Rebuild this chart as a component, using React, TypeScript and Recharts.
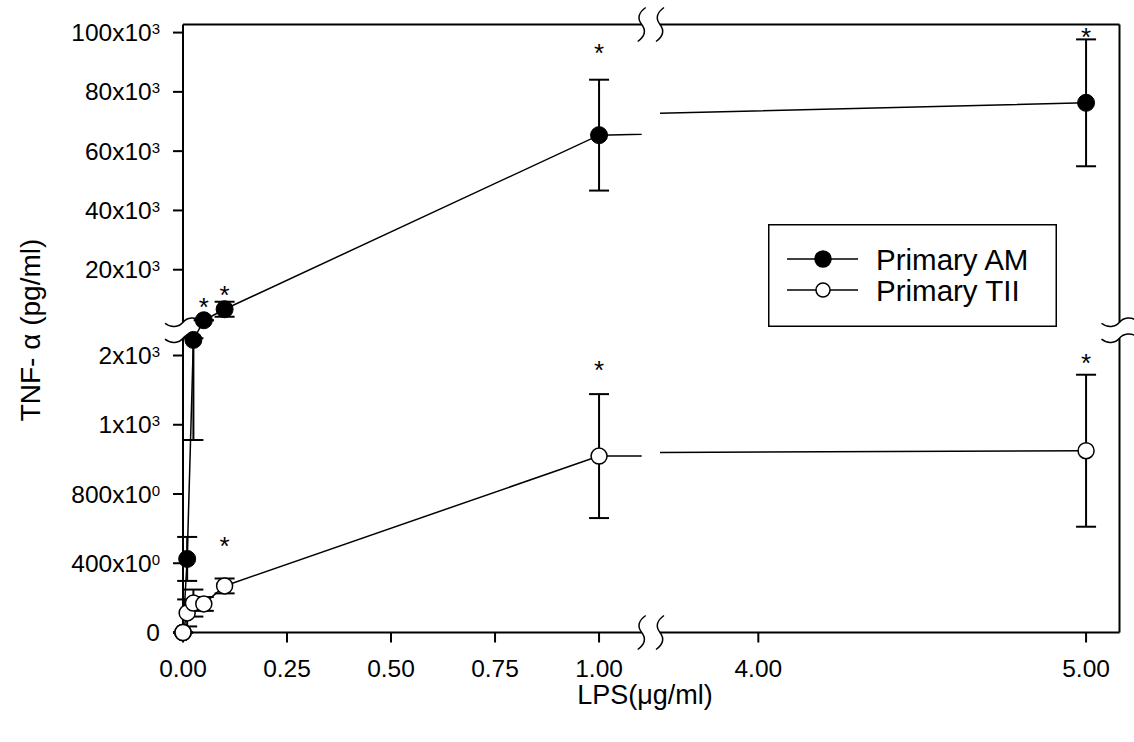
import React from 'react';
import {
    LineChart,
    Line,
    XAxis,
    YAxis,
    ErrorBar,
    ReferenceLine,
    ReferenceDot,
    Legend,
    Label,
} from 'recharts';

// LPS dose (µg/ml)
const doses = [0, 0.01, 0.025, 0.05, 0.1, 1, 5];
// TNF-α mean and SD, pg/ml
const amMean = [0, 425, 1690, 2950, 6670, 65400, 76300];
const amSd = [0, 127, 578, 0, 2530, 18700, 21400];
const tiiMean = [0, 113, 170, 165, 269, 1019, 1050];
const tiiSd = [0, 78, 78, 40, 43, 358, 439];
// height of the significance stars, pg/ml (null = no star)
const amStarAt = [null, null, null, 8700, 12700, 94400, 99800];
const tiiStarAt = [null, null, null, null, 520, 1540, 1580];

const seriesNames = ['Primary AM', 'Primary TII'];

// tick values and labels as printed on the figure
const leftTicks = [0, 0.25, 0.5, 0.75, 1];
const rightTicks = [4, 5];
const lowerTicks = [0, 400, 800, 1200, 1600];
const lowerTickLabels = [['0', ''], ['400x10', '0'], ['800x10', '0'], ['1x10', '3'], ['2x10', '3']];
const upperTicks = [20000, 40000, 60000, 80000, 100000];
const upperTickLabels = [['20x10', '3'], ['40x10', '3'], ['60x10', '3'], ['80x10', '3'], ['100x10', '3']];

// broken axes
const LEFT_DOMAIN: [number, number] = [0, 1.1025];
const RIGHT_DOMAIN: [number, number] = [3.7, 5.102];
const LOWER_TOP = 1700; // lower y segment: 0..1700
const UPPER_BOTTOM = 2275; // upper y segment starts here
const GAP = 92; // room between the two y segments (axis units)
const UPPER_RATIO = 58.4; // upper segment is squeezed by this much
const Y_MAX = 3512;

const MARGIN_TOP = 24.5;
const MARGIN_BOTTOM = 49.5;
const X_AXIS_H = 60;
const CHART_H = 742;
const PLOT_H = CHART_H - MARGIN_TOP - MARGIN_BOTTOM - X_AXIS_H;

const FONT = '"Liberation Sans", Arial, sans-serif';
const BLACK = '#000';

const toDisplay = (v: number) =>
    v <= LOWER_TOP ? v : LOWER_TOP + GAP + (v - UPPER_BOTTOM) / UPPER_RATIO;

// error bar ends stay in the segment of their point
const errPair = (m: number, sd: number): [number, number] => {
    const lo = m <= LOWER_TOP ? 0 : UPPER_BOTTOM;
    const hi = m <= LOWER_TOP ? LOWER_TOP : Infinity;
    const d = toDisplay(m);
    return [d - toDisplay(Math.max(lo, m - sd)), toDisplay(Math.min(hi, m + sd)) - d];
};

const rows = doses.map((dose, i) => ({
    dose,
    am: toDisplay(amMean[i]),
    tii: toDisplay(tiiMean[i]),
    amErr: errPair(amMean[i], amSd[i]),
    tiiErr: errPair(tiiMean[i], tiiSd[i]),
    amStar: amStarAt[i] == null ? null : toDisplay(amStarAt[i] as number),
    tiiStar: tiiStarAt[i] == null ? null : toDisplay(tiiStarAt[i] as number),
}));

const yTicks = [...lowerTicks, ...upperTicks].map(toDisplay);
const yLabels = [...lowerTickLabels, ...upperTickLabels];

// vertical frame line with a gap at the y break (drawn top -> bottom)
const pxPerUnit = PLOT_H / Y_MAX;
const frameDash = `${(Y_MAX - toDisplay(UPPER_BOTTOM)) * pxPerUnit} ${GAP * pxPerUnit} ${LOWER_TOP * pxPerUnit + 20}`;
const frameLine = { stroke: BLACK, strokeWidth: 2, strokeDasharray: frameDash };

const YTick = (props: any) => {
    const { x, y, payload } = props;
    let idx = 0;
    yTicks.forEach((t, i) => {
        if (Math.abs(t - payload.value) < Math.abs(yTicks[idx] - payload.value)) idx = i;
    });
    const [base, exp] = yLabels[idx];
    return (
        <text x={x} y={y} dy={8.5} textAnchor="end" fontSize={24.5} fontFamily={FONT} fill={BLACK}>
            {base}
            {exp && <tspan dy={-7} fontSize={15}>{exp}</tspan>}
        </text>
    );
};

const XTick = (props: any) => {
    const { x, y, payload } = props;
    return (
        <text x={x} y={y} dy={17} textAnchor="middle" fontSize={24.5} fontFamily={FONT} fill={BLACK}>
            {Number(payload.value).toFixed(2)}
        </text>
    );
};

// break symbols
const xBreak = (p: any) => (
    <path
        d={`M${p.cx + 4},${p.cy - 17} Q${p.cx - 7},${p.cy - 9} ${p.cx},${p.cy} Q${p.cx + 7},${p.cy + 9} ${p.cx - 4},${p.cy + 17}`}
        fill="none" stroke={BLACK} strokeWidth={1.5}
    />
);
const yBreak = (p: any) => (
    <path
        d={`M${p.cx - 18},${p.cy + 1} C${p.cx - 12},${p.cy + 6} ${p.cx - 4},${p.cy + 5} ${p.cx},${p.cy} C${p.cx + 4},${p.cy - 5} ${p.cx + 12},${p.cy - 6} ${p.cx + 18},${p.cy - 1}`}
        fill="none" stroke={BLACK} strokeWidth={1.5}
    />
);

const starDot = (p: any) => {
    if (p.cy == null || p.value == null) return <g key={p.index} />;
    return (
        <text key={p.index} x={p.cx} y={p.cy + 13} textAnchor="middle" fontSize={26} fontFamily={FONT} fill={BLACK}>
            *
        </text>
    );
};

const amDot = { r: 8.5, fill: BLACK, stroke: BLACK, strokeWidth: 1 };
const tiiDot = { r: 8, fill: '#fff', stroke: BLACK, strokeWidth: 1.5 };

const LegendBox = (props: any) => {
    const payload = (props.payload || []).filter((e: any) => seriesNames.includes(e.value));
    return (
        <svg width={290} height={104} style={{ display: 'block' }}>
            <rect x={0.75} y={0.75} width={287.5} height={101.5} fill="#fff" stroke={BLACK} strokeWidth={1.5} />
            {payload.map((e: any, i: number) => {
                const y = 35 + i * 31;
                const filled = e.value === seriesNames[0];
                return (
                    <g key={e.value}>
                        <line x1={19} x2={90} y1={y} y2={y} stroke={BLACK} strokeWidth={1.5} />
                        <circle cx={55} cy={y} r={filled ? 8 : 7} fill={filled ? BLACK : '#fff'} stroke={BLACK} strokeWidth={1.5} />
                        <text x={108} y={y + 10.5} fontSize={29.5} fontFamily={FONT} fill={BLACK}>{e.value}</text>
                    </g>
                );
            })}
        </svg>
    );
};

const Panel = ({ side }: { side: 'left' | 'right' }) => {
    const left = side === 'left';
    const domain = left ? LEFT_DOMAIN : RIGHT_DOMAIN;
    const inPanel = rows.filter((r) => r.dose >= domain[0] && r.dose <= domain[1]);
    const edgeX = left ? domain[0] : domain[1];
    const breakX = left ? domain[1] : domain[0];
    const width = left ? 660 : 1134;
    const margin = left
        ? { top: MARGIN_TOP, right: 18.3, bottom: MARGIN_BOTTOM, left: 103 }
        : { top: MARGIN_TOP, right: 4.5, bottom: MARGIN_BOTTOM, left: 660 };

    return (
        <div style={{ position: 'absolute', left: 0, top: 0 }}>
            <LineChart width={width} height={CHART_H} data={rows} margin={margin}>
                <XAxis xAxisId="clip" orientation="top" type="number" dataKey="dose" domain={domain} allowDataOverflow hide />
                <XAxis
                    xAxisId="main" type="number" dataKey="dose" domain={domain} height={X_AXIS_H}
                    ticks={left ? leftTicks : rightTicks} interval={0} tick={<XTick />}
                    tickSize={10} tickMargin={17}
                    axisLine={{ stroke: BLACK, strokeWidth: 2 }}
                    tickLine={{ stroke: BLACK, strokeWidth: 2 }}
                >
                    {!left && (
                        <Label
                            content={() => (
                                <text x={645} y={704} textAnchor="middle" fontSize={27} fontFamily={FONT} fill={BLACK}>
                                    LPS(μg/ml)
                                </text>
                            )}
                        />
                    )}
                </XAxis>
                {left ? (
                    <YAxis
                        type="number" domain={[0, Y_MAX]} ticks={yTicks} interval={0}
                        width={80} tick={<YTick />} tickSize={10} tickMargin={13}
                        axisLine={frameLine} tickLine={{ stroke: BLACK, strokeWidth: 2 }}
                    >
                        <Label
                            content={() => (
                                <text
                                    x={40} y={330} textAnchor="middle" fontSize={28} fontFamily={FONT} fill={BLACK}
                                    transform="rotate(-90 40 330)"
                                >
                                    TNF- α (pg/ml)
                                </text>
                            )}
                        />
                    </YAxis>
                ) : (
                    <YAxis
                        type="number" orientation="right" domain={[0, Y_MAX]} width={10}
                        ticks={[0]} tick={false} tickLine={false} axisLine={frameLine}
                    />
                )}

                {/* top frame and break symbols */}
                <ReferenceLine xAxisId="main" y={Y_MAX} stroke={BLACK} strokeWidth={2} ifOverflow="visible" />
                <ReferenceDot xAxisId="main" x={edgeX} y={toDisplay(LOWER_TOP)} r={1} ifOverflow="visible" shape={yBreak} />
                <ReferenceDot xAxisId="main" x={edgeX} y={toDisplay(UPPER_BOTTOM)} r={1} ifOverflow="visible" shape={yBreak} />
                <ReferenceDot xAxisId="main" x={breakX} y={0} r={1} ifOverflow="visible" shape={xBreak} />
                <ReferenceDot xAxisId="main" x={breakX} y={Y_MAX} r={1} ifOverflow="visible" shape={xBreak} />

                {/* connecting lines, clipped at the axis break */}
                <Line xAxisId="clip" dataKey="am" stroke={BLACK} strokeWidth={1.5} dot={false} legendType="none" isAnimationActive={false} />
                <Line xAxisId="clip" dataKey="tii" stroke={BLACK} strokeWidth={1.5} dot={false} legendType="none" isAnimationActive={false} />

                {/* symbols with SD */}
                <Line
                    xAxisId="main" data={inPanel} dataKey="am" name={seriesNames[0]} stroke="none"
                    dot={amDot} activeDot={false} isAnimationActive={false}
                >
                    <ErrorBar dataKey="amErr" direction="y" width={10} stroke={BLACK} strokeWidth={2} isAnimationActive={false} />
                </Line>
                <Line
                    xAxisId="main" data={inPanel} dataKey="tii" name={seriesNames[1]} stroke="none"
                    dot={tiiDot} activeDot={false} isAnimationActive={false}
                >
                    <ErrorBar dataKey="tiiErr" direction="y" width={10} stroke={BLACK} strokeWidth={2} isAnimationActive={false} />
                </Line>

                {/* significance stars */}
                <Line
                    xAxisId="main" data={inPanel.filter((r) => r.amStar != null)} dataKey="amStar" stroke="none"
                    dot={starDot} activeDot={false} legendType="none" isAnimationActive={false}
                />
                <Line
                    xAxisId="main" data={inPanel.filter((r) => r.tiiStar != null)} dataKey="tiiStar" stroke="none"
                    dot={starDot} activeDot={false} legendType="none" isAnimationActive={false}
                />

                {!left && (
                    <Legend
                        layout="vertical" align="center" verticalAlign="middle"
                        content={<LegendBox />}
                        wrapperStyle={{ left: 768, top: 224, width: 290, height: 104 }}
                    />
                )}
            </LineChart>
        </div>
    );
};

export default function App() {
    return (
        <div style={{ position: 'absolute', left: 0, top: 0, width: 1134, height: 742, background: '#fff' }}>
            <Panel side="left" />
            <Panel side="right" />
        </div>
    );
}
